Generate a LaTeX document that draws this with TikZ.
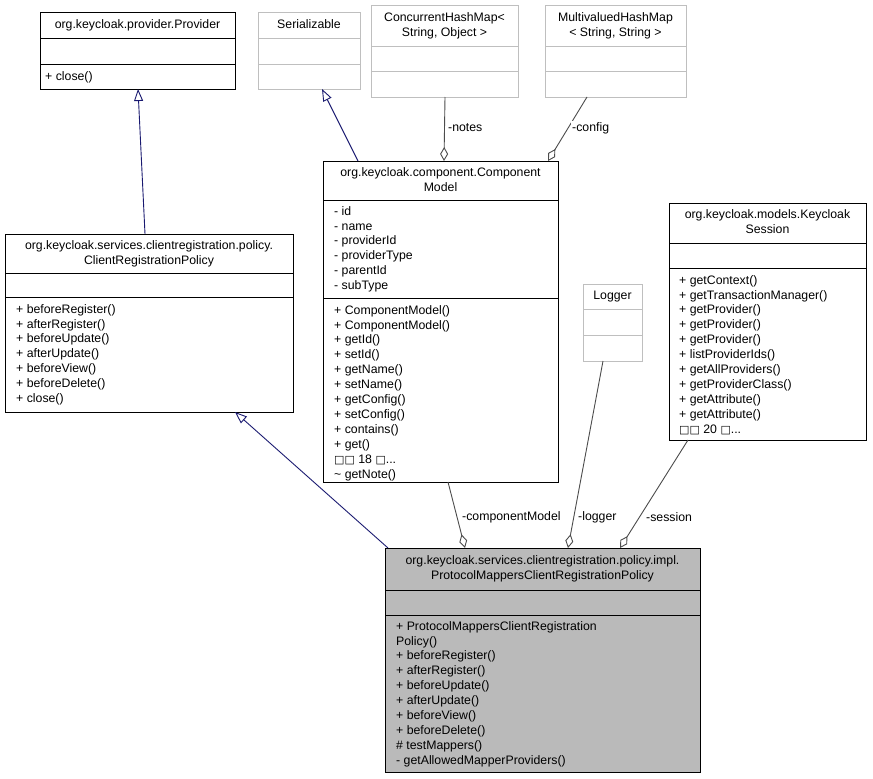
\documentclass[tikz,border=0pt]{standalone}
\usepackage{fontspec}
\setmainfont{Liberation Sans}
\newfontfamily\symf{DejaVu Sans}
\usetikzlibrary{arrows.meta}
\newcommand{\bx}{{\symf\fontsize{11}{11}\selectfont □}}
\definecolor{navy}{RGB}{25,25,112}
\tikzset{
  x=1pt,y=-1pt,
  every node/.style={font=\fontsize{12.3}{14.9}\selectfont,inner sep=0pt},
  txt/.style={anchor=north west,align=left},
  ttl/.style={anchor=north,align=center},
  inh/.style={draw=navy,line width=0.9pt,-{Triangle[open,length=12pt,width=9pt]}},
  agg/.style={draw=black!70,line width=0.9pt,{Diamond[open,length=14pt,width=8pt]}-},
  lbl/.style={anchor=west,fill=white,inner sep=1pt}
}
% name x1 y1 x2 y2 s1 s2 draw fill
\newcommand{\ubox}[9]{%
  \node[draw=#8,fill=#9,line width=1pt,minimum width=#4pt-#2pt,minimum height=#5pt-#3pt,anchor=north west] (#1) at (#2,#3) {};
  \draw[#8,line width=1pt] (#2,#6) -- (#4,#6) (#2,#7) -- (#4,#7);}
\begin{document}
\begin{tikzpicture}
\useasboundingbox[fill=white] (0,0) rectangle (873,779);
% boxes
\ubox{prov}{40}{12}{235}{89}{38}{64}{black}{white}
\node[ttl] at (137.5,19) {org.keycloak.provider.Provider};
\node[txt] at (45,71) {+ close()};
\ubox{ser}{258}{12}{360}{89}{38}{64}{black!25}{white}
\node[ttl] at (309,19) {Serializable};
\ubox{chm}{371}{5}{518}{97}{46}{71}{black!25}{white}
\node[ttl] at (444.5,12) {ConcurrentHashMap<\\String, Object >};
\ubox{mhm}{545}{5}{686}{97}{46}{71}{black!25}{white}
\node[ttl] at (615.5,12) {MultivaluedHashMap\\< String, String >};
\ubox{cm}{323}{161}{558}{482}{200}{298}{black}{white}
\node[ttl] at (440.5,167) {org.keycloak.component.Component\\Model};
\node[txt] at (334,206) {- id\\- name\\- providerId\\- providerType\\- parentId\\- subType};
\node[txt] at (334,305) {+ ComponentModel()\\+ ComponentModel()\\+ getId()\\+ setId()\\+ getName()\\+ setName()\\+ getConfig()\\+ setConfig()\\+ contains()\\+ get()\\\bx\bx{} 18 \bx...\\\textasciitilde{} getNote()};
\ubox{crp}{5}{234}{293}{412}{273}{297}{black}{white}
\node[ttl] at (149,240) {org.keycloak.services.clientregistration.policy.\\ClientRegistrationPolicy};
\node[txt] at (16,304) {+ beforeRegister()\\+ afterRegister()\\+ beforeUpdate()\\+ afterUpdate()\\+ beforeView()\\+ beforeDelete()\\+ close()};
\ubox{log}{583}{284}{642}{361}{309}{335}{black!25}{white}
\node[ttl] at (612.5,291) {Logger};
\ubox{ks}{669}{203}{866}{440}{243}{268}{black}{white}
\node[ttl] at (767.5,209) {org.keycloak.models.Keycloak\\Session};
\node[txt] at (679,275) {+ getContext()\\+ getTransactionManager()\\+ getProvider()\\+ getProvider()\\+ getProvider()\\+ listProviderIds()\\+ getAllProviders()\\+ getProviderClass()\\+ getAttribute()\\+ getAttribute()\\\bx\bx{} 20 \bx...};
\ubox{main}{385}{548}{700}{772}{590}{615}{black}{black!27}
\node[ttl] at (542.5,555) {org.keycloak.services.clientregistration.policy.impl.\\ProtocolMappersClientRegistrationPolicy};
\node[txt] at (396,621) {+ ProtocolMappersClientRegistration\\Policy()\\+ beforeRegister()\\+ afterRegister()\\+ beforeUpdate()\\+ afterUpdate()\\+ beforeView()\\+ beforeDelete()\\\# testMappers()\\- getAllowedMapperProviders()};
% connectors
\coordinate (a1) at (145,234); \coordinate (a2) at (138,89);
\draw[inh] (a1) -- (a2);
\coordinate (b1) at (358,161); \coordinate (b2) at (322,89);
\draw[inh] (b1) -- (b2);
\coordinate (c1) at (388,548); \coordinate (c2) at (235,412);
\draw[inh] (c1) -- (c2);
\coordinate (n1) at (444,161); \coordinate (n2) at (445,97);
\draw[agg] (n1) -- (n2);
\node[lbl] at (447,128) {-notes};
\coordinate (f1) at (548,161); \coordinate (f2) at (587,97);
\draw[agg] (f1) -- (f2);
\node[lbl] at (571,128) {-config};
\coordinate (m1) at (465,548); \coordinate (m2) at (448,482);
\draw[agg] (m1) -- (m2);
\node[lbl] at (461,517) {-componentModel};
\coordinate (l1) at (568,548); \coordinate (l2) at (603,361);
\draw[agg] (l1) -- (l2);
\node[lbl] at (577,517) {-logger};
\coordinate (s1) at (620,548); \coordinate (s2) at (688,440);
\draw[agg] (s1) -- (s2);
\node[lbl] at (645,517) {-session};
\end{tikzpicture}
\end{document}
